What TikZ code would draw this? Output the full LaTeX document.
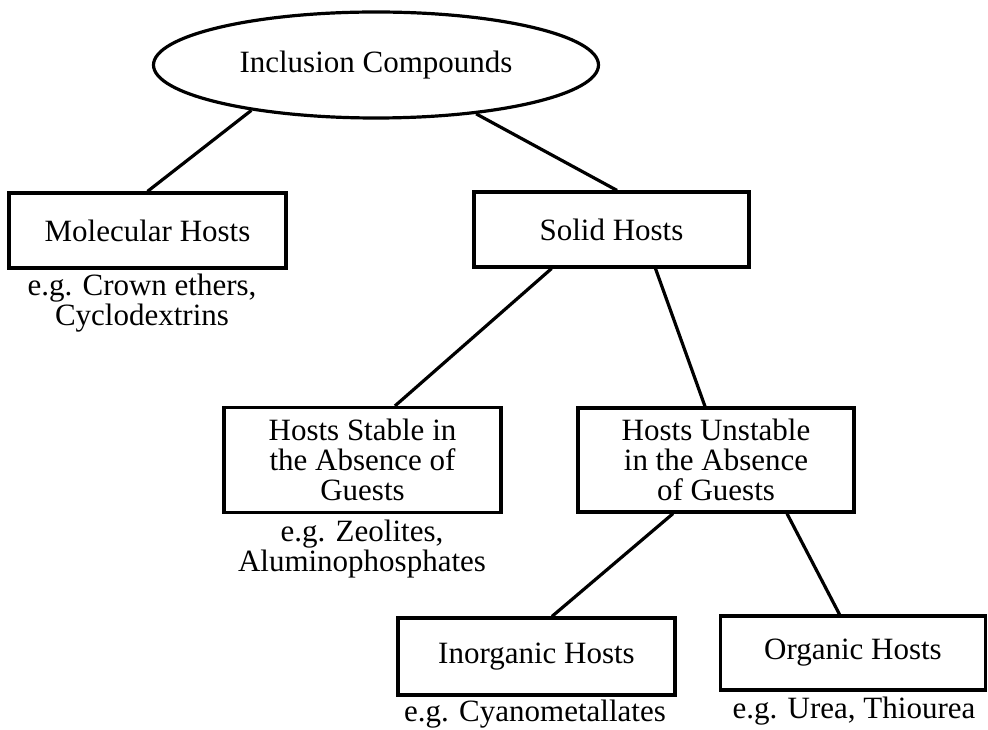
\documentclass[tikz,border=0pt]{standalone}
\usepackage{fontspec}
\setmainfont{Liberation Serif}
\usetikzlibrary{shapes.geometric}

\begin{document}
\begin{tikzpicture}[x=1pt,y=1pt,font=\fontsize{31}{30}\selectfont,line width=3.2pt,
  hostbox/.style={draw,rectangle,inner sep=0pt,align=center,minimum width=277pt,minimum height=75pt},
  tallbox/.style={hostbox,minimum height=105pt},
  eglabel/.style={align=center,inner sep=0pt}]
\useasboundingbox (0,0) rectangle (988,729);
% classification tree, top to bottom
\node[draw,ellipse,inner sep=0pt,minimum width=445pt,minimum height=106pt] (root) at (376,664) {Inclusion Compounds};

\node[hostbox] (molecular) at (147.5,498.5) {Molecular Hosts};
\node[hostbox,minimum width=275pt] (solid) at (611.5,499.5) {Solid Hosts};
\node[eglabel] (molecular-eg) at (142,426) {e.g. Crown ethers,\\Cyclodextrins};

\node[tallbox] (stable) at (362.5,269) {Hosts Stable in\\the Absence of\\Guests};
\node[tallbox,minimum width=276pt,minimum height=104pt] (unstable) at (716,269) {Hosts Unstable\\in the Absence\\of Guests};
\node[eglabel] (stable-eg) at (362,180) {e.g. Zeolites,\\Aluminophosphates};

\node[hostbox,minimum height=77pt] (inorganic) at (536.5,72.5) {Inorganic Hosts};
\node[hostbox,minimum width=265pt,minimum height=74pt] (organic) at (853,76) {Organic Hosts};
\node[eglabel] (inorganic-eg) at (535,15) {e.g. Cyanometallates};
\node[eglabel] (organic-eg) at (854,18) {e.g. Urea, Thiourea};

% branches
\draw (root.200) -- (molecular.north);
\draw (root.334) -- ([xshift=5.5pt]solid.north);
\draw ([xshift=-60pt]solid.south) -- ([xshift=32.5pt]stable.north);
\draw ([xshift=44pt]solid.south) -- ([xshift=-11pt]unstable.north);
\draw ([xshift=-43pt]unstable.south) -- ([xshift=15.5pt]inorganic.north);
\draw ([xshift=71pt]unstable.south) -- ([xshift=-13.5pt]organic.north);
\end{tikzpicture}
\end{document}
